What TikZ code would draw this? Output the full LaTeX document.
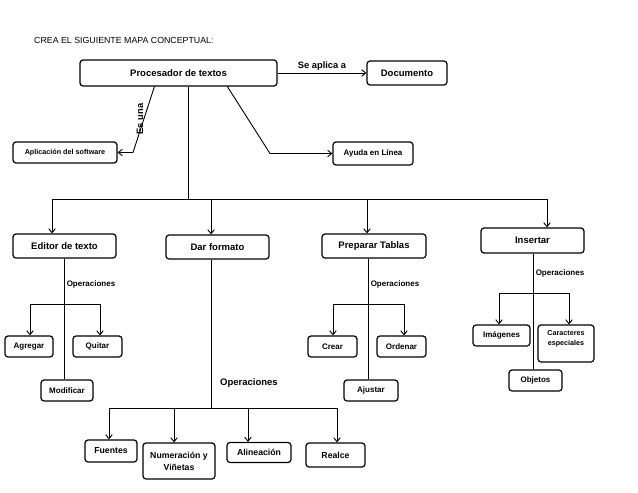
\documentclass[tikz,border=0pt]{standalone}
\usepackage{fontspec}
\setmainfont{Liberation Sans}
\usetikzlibrary{arrows.meta,calc}
\begin{document}
\begin{tikzpicture}[x=1pt,y=-1pt,
  box/.style={draw, rounded corners=3pt, line width=1.2pt, inner sep=0pt, align=center,
              font=\bfseries\fontsize{8}{10}\selectfont},
  big/.style={font=\bfseries\fontsize{9.5}{11}\selectfont},
  mid/.style={font=\bfseries\fontsize{8.7}{12}\selectfont},
  tiny/.style={font=\bfseries\fontsize{7.2}{10}\selectfont},
  lbl/.style={inner sep=0pt, font=\bfseries\fontsize{8}{10}\selectfont},
  conn/.style={line width=0.9pt},
  arr/.style={conn, -{Straight Barb[length=4pt,width=6.5pt]}}]
\useasboundingbox (0,0) rectangle (638,493);

\node[anchor=west, inner sep=0pt, font=\fontsize{8.8}{10}\selectfont] (title) at (34,40) {CREA EL SIGUIENTE MAPA CONCEPTUAL:};

% top level
\node[box, big, minimum width=197, minimum height=26] (proc) at (178.5,73) {Procesador de textos};
\node[box, big, minimum width=80, minimum height=24] (doc) at (407,73) {Documento};
\node[box, tiny, minimum width=104, minimum height=21] (apl) at (65,152.5) {Aplicación del software};
\node[box, minimum width=80, minimum height=23] (ayu) at (373,153.5) {Ayuda en Línea};

% second level
\node[box, big, minimum width=103, minimum height=24] (edit) at (64.5,246) {Editor de texto};
\node[box, big, minimum width=103, minimum height=24] (dar) at (217.5,247) {Dar formato};
\node[box, big, minimum width=104, minimum height=24] (prep) at (374,246) {Preparar Tablas};
\node[box, big, minimum width=103, minimum height=25] (ins) at (532.5,240.5) {Insertar};

% editor subtree
\node[box, minimum width=48, minimum height=21] (agr) at (29,346.5) {Agregar};
\node[box, minimum width=49, minimum height=21] (qui) at (97.5,346.5) {Quitar};
\node[box, minimum width=52, minimum height=21] (mod) at (67,390.5) {Modificar};

% tablas subtree
\node[box, minimum width=49, minimum height=21] (cre) at (332.5,346.5) {Crear};
\node[box, minimum width=49, minimum height=21] (ord) at (401.5,346.5) {Ordenar};
\node[box, minimum width=54, minimum height=21] (aju) at (371,390.5) {Ajustar};

% insertar subtree
\node[box, minimum width=57, minimum height=21] (img) at (501.5,335.5) {Imágenes};
\node[box, tiny, minimum width=56, minimum height=37] (car) at (566,343.5) {Caracteres\\especiales\\[1pt]};
\node[box, minimum width=53, minimum height=21] (obj) at (535.5,380.5) {Objetos};

% formato subtree
\node[box, mid, minimum width=52, minimum height=22] (fue) at (111,451) {Fuentes};
\node[box, mid, minimum width=72, minimum height=36] (num) at (179,461) {Numeración y\\Viñetas};
\node[box, mid, minimum width=64, minimum height=20] (ali) at (259,452.5) {Alineación};
\node[box, mid, minimum width=59, minimum height=24] (rea) at (335.5,455) {Realce};

% connectors top
\draw[arr] (proc.east) -- node[above, inner sep=2pt, font=\bfseries\fontsize{9.3}{11}\selectfont] (selbl) {Se aplica a} (doc.west);
\coordinate (esA) at ($(proc.south west)+(75,0)$);
\coordinate (esB) at (133,152.5);
\draw[arr] (esA) -- (esB) -- (apl.east);
\node[rotate=90, inner sep=0pt, font=\bfseries\fontsize{9.3}{11}\selectfont] (eslbl) at (140,119) {Es una};
\coordinate (ayA) at ($(proc.south west)+(148,0)$);
\coordinate (ayB) at (270,153.5);
\draw[arr] (ayA) -- (ayB) -- (ayu.west);

\coordinate (bus) at (188,199);
\draw[conn] ([xshift=9.5pt]proc.south) -- (bus);
\draw[arr] (bus) -| ([xshift=-12.5pt]edit.north);
\draw[arr] (bus) -| ([xshift=-6.5pt]dar.north);
\draw[arr] (bus) -| ([xshift=-7pt]prep.north);
\draw[arr] (bus) -| ([xshift=14.5pt]ins.north);

% editor subtree connectors
\draw[conn] (edit.south) -- (edit.south |- mod.north);
\node[lbl] (eop) at (91,284) {Operaciones};
\coordinate (eb) at (64.5,304);
\draw[arr] (eb) -| ([xshift=1pt]agr.north);
\draw[arr] (eb) -| ([xshift=2.5pt]qui.north);

% formato subtree connectors
\coordinate (db) at (211,408);
\draw[conn] (dar.south -| db) -- (db);
\node[inner sep=0pt, font=\bfseries\fontsize{9.5}{11}\selectfont] (dop) at (249,383) {Operaciones};
\draw[arr] (db) -| ([xshift=-2pt]fue.north);
\draw[arr] (db) -| ([xshift=-5pt]num.north);
\draw[arr] (db) -| ([xshift=-11pt]ali.north);
\draw[arr] (db) -| ([xshift=1.5pt]rea.north);

% tablas subtree connectors
\draw[conn] ([xshift=-6pt]prep.south) -- ([xshift=-3pt]aju.north);
\node[lbl] (pop) at (395,284) {Operaciones};
\coordinate (pb) at (368,304);
\draw[arr] (pb) -| ([xshift=0.5pt]cre.north);
\draw[arr] (pb) -| ([xshift=2.5pt]ord.north);

% insertar subtree connectors
\draw[conn] ([xshift=0.5pt]ins.south) -- ([xshift=-2.5pt]obj.north);
\node[lbl] (iop) at (560,273) {Operaciones};
\coordinate (ib) at (533,293);
\draw[arr] (ib) -| ([xshift=-2.5pt]img.north);
\draw[arr] (ib) -| ([xshift=3pt]car.north);
\end{tikzpicture}
\end{document}
